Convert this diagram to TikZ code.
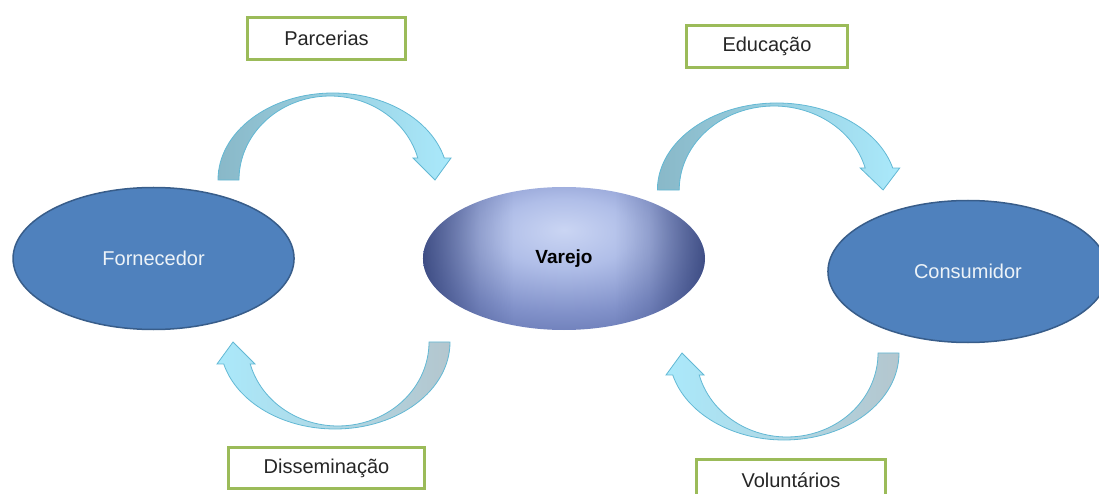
\documentclass[tikz,border=0pt]{standalone}
\usepackage{fontspec}
\setmainfont{Liberation Sans}
\usetikzlibrary{shapes.geometric,positioning,fadings}

\definecolor{officeblue}{RGB}{79,129,189}
\definecolor{officeline}{RGB}{56,93,138}
\definecolor{boxgreen}{RGB}{155,187,89}
\definecolor{tailblue}{RGB}{137,184,200}
\definecolor{tailgrey}{RGB}{180,198,206}
\definecolor{headcyan}{RGB}{170,233,251}
\definecolor{arrowline}{RGB}{98,184,212}
\definecolor{vlight}{RGB}{202,213,243}
\definecolor{vlighter}{RGB}{176,190,232}
\definecolor{vmid}{RGB}{130,146,202}
\definecolor{vdark}{RGB}{86,104,166}
\definecolor{vdeep}{RGB}{28,42,96}

\pgfdeclareradialshading{varejoshade}{\pgfpoint{0bp}{10bp}}{%
  color(0bp)=(vlight); color(12bp)=(vlighter); color(26bp)=(vmid);
  color(42bp)=(vdark); color(100bp)=(vdark)}
% dark sides of the hub
\pgfdeclarehorizontalshading{sidegray}{100bp}{%
  color(0bp)=(white); color(20bp)=(white); color(26bp)=(white!60!black);
  color(35bp)=(white!15!black); color(41bp)=(black); color(59bp)=(black);
  color(65bp)=(white!15!black); color(74bp)=(white!60!black);
  color(80bp)=(white); color(100bp)=(white)}
\pgfdeclarefading{sidefade}{\pgfuseshading{sidegray}}

% curved block arrow, tail left, head right
\newcommand{\bentarrow}{(-115,0) arc[start angle=180,end angle=14.6,x radius=115,y radius=87]
  -- (118,22) -- (102,0) -- (80,22) -- (84.8,22)
  arc[start angle=15.2,end angle=180,x radius=91,y radius=84] -- cycle}

\begin{document}
\begin{tikzpicture}[x=1pt,y=1pt,
	every node/.style={font=\fontsize{20}{24}\selectfont},
	actor/.style={ellipse,draw=officeline,line width=1.5pt,fill=officeblue,text=white!90!officeblue,minimum width=280pt,minimum height=142pt,inner sep=0pt},
	hub/.style={ellipse,shade,shading=varejoshade,minimum width=282pt,minimum height=143pt,inner sep=0pt},
	tag/.style={rectangle,draw=boxgreen,line width=3pt,fill=white,minimum height=42pt,text=black!85},
	bendarrow/.style={draw=arrowline,line width=0.8pt}]
	\useasboundingbox (0,0) rectangle (1099,493);
		\node[hub] (varejo) at (564,234.5) {};
		\fill[vdeep, path fading=sidefade] (varejo.center) ellipse[x radius=141, y radius=71.5];
		\node[font=\fontsize{19}{23}\selectfont\bfseries] (vtext) at (varejo.center) {Varejo};
		\node[actor, minimum width=281pt] (forn) [left=128pt of varejo] {Fornecedor};
		\node[actor] (cons) [right=122pt of varejo, yshift=-13pt] {Consumidor};
		\node[tag, minimum width=158pt] (parc) at (326.5,454.5) {Parcerias};
		\node[tag, minimum width=161pt] (educ) at (767,446.5) {Educação};
		\node[tag, minimum width=196pt, minimum height=41pt] (diss) at (326.5,25) {Disseminação};
		\node[tag, minimum width=189pt] (volu) at (791,13) {Voluntários};
			% arrows
			\coordinate (a1) at (333,313);
			\coordinate (a2) at (777,303);
			\coordinate (a3) at (335,151);
			\coordinate (a4) at (784,140);
			\begin{scope}[shift={(a1)}]
				\shade[bendarrow,left color=tailblue,right color=headcyan] \bentarrow;
			\end{scope}
			\begin{scope}[shift={(a2)},xscale=1.04]
				\shade[bendarrow,left color=tailblue,right color=headcyan] \bentarrow;
			\end{scope}
			\begin{scope}[shift={(a3)},rotate=180]
				\shade[bendarrow,left color=headcyan,right color=tailgrey] \bentarrow;
			\end{scope}
			\begin{scope}[shift={(a4)},rotate=180]
				\shade[bendarrow,left color=headcyan,right color=tailgrey] \bentarrow;
			\end{scope}
\end{tikzpicture}
\end{document}
